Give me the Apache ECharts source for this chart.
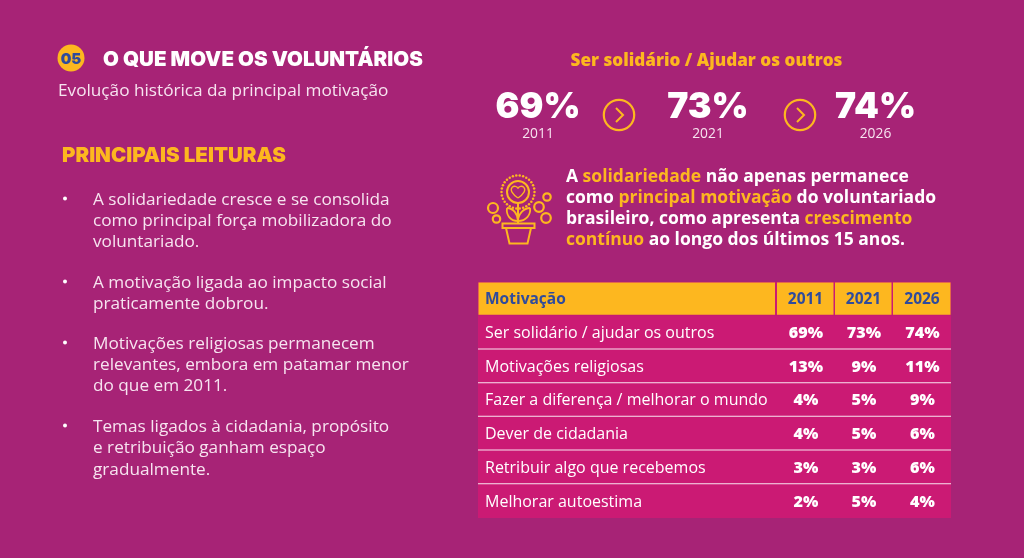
<!DOCTYPE html>
<html><head><meta charset="utf-8">
<style>html,body{margin:0;padding:0;background:#A72376}#c{width:1024px;height:558px}</style>
<script src="https://cdn.jsdelivr.net/npm/echarts@6/dist/echarts.min.js"></script>
</head><body><div id="c"></div>
<script>
// ---- data ----
const motivacoes = ['Ser solidário / ajudar os outros','Motivações religiosas','Fazer a diferença / melhorar o mundo','Dever de cidadania','Retribuir algo que recebemos','Melhorar autoestima'];
const anos = ['2011','2021','2026'];
const v2011 = [69,13,4,4,3,2];
const v2021 = [73,9,5,5,3,5];
const v2026 = [74,11,9,6,6,4];
const kpiValores = [69,73,74];
const headerCol = 'Motivação';
const titulo = 'O QUE MOVE OS VOLUNTÁRIOS';
const subtitulo = 'Evolução histórica da principal motivação';
const leituras = 'PRINCIPAIS LEITURAS';
const bullets = [
 ['A solidariedade cresce e se consolida','como principal força mobilizadora do','voluntariado.'],
 ['A motivação ligada ao impacto social','praticamente dobrou.'],
 ['Motivações religiosas permanecem','relevantes, embora em patamar menor','do que em 2011.'],
 ['Temas ligados à cidadania, propósito','e retribuição ganham espaço','gradualmente.']
];

// ---- style ----
const BG='#A72376', PINK='#CB1A74', Y='#FDB71F', BLUE='#2F4B9D', W='#FFFFFF', SOFT='#F7E4F0';
const OS='"Open Sans"', HEAD='Inter';
const colEdges=[0,298,356,414,473];

const rowsAll=[null,...motivacoes];
const serie=[v2011,v2021,v2026];
const cells=[];
for(let r=0;r<rowsAll.length;r++)for(let c=0;c<4;c++)cells.push([c,r]);

function renderCell(params,api){
  const c=api.value(0), r=api.value(1);
  const h=api.size([0,1])[1];
  const x0=api.coord([colEdges[c],r]), x1=api.coord([colEdges[c+1],r]);
  const top=x0[1]-h/2, left=x0[0], w=x1[0]-x0[0];
  const kids=[];
  if(r===0){
    kids.push({type:'rect',shape:{x:left,y:top,width:w,height:h},style:{fill:PINK}});
    kids.push({type:'rect',shape:{x:left+(c?1:0.5),y:top+0.5,width:w-1.5,height:h-1.5},style:{fill:Y}});
    const t=c===0?headerCol:anos[c-1];
    kids.push({type:'text',style:{x:c===0?left+7:left+w/2+0.5,y:top+h/2+0.5,text:t,fill:BLUE,fontFamily:OS,fontWeight:700,fontSize:15.5,textAlign:c===0?'left':'center',textVerticalAlign:'middle'}});
  }else{
    kids.push({type:'rect',shape:{x:left,y:top,width:w,height:h},style:{fill:PINK}});
    if(r<rowsAll.length-1)kids.push({type:'rect',shape:{x:left,y:top+h-1,width:w,height:2},style:{fill:'#F9E4EF'}});
    const t=c===0?rowsAll[r]:serie[c-1][r-1]+'%';
    kids.push({type:'text',style:{x:c===0?left+7:left+w/2+1,y:top+h/2+0.8,text:t,fill:W,fontFamily:OS,fontWeight:c===0?500:800,fontSize:c===0?16:16.2,textAlign:c===0?'left':'center',textVerticalAlign:'middle'}});
  }
  return {type:'group',children:kids};
}

// ---- graphic helpers ----
const T=(x,y,text,fill,size,weight,font,align)=>({type:'text',x,y,silent:true,style:{text,fill,fontSize:size,fontWeight:weight||400,fontFamily:font||OS,textAlign:align||'left',textVerticalAlign:'middle'}});
const RING=(cx,cy,r,lw)=>({type:'circle',shape:{cx,cy,r},style:{fill:'none',stroke:Y,lineWidth:lw||2}});
const BZ=(p,lw)=>({type:'bezierCurve',shape:{x1:p[0],y1:p[1],cpx1:p[2],cpy1:p[3],cpx2:p[4],cpy2:p[5],x2:p[6],y2:p[7]},style:{fill:'none',stroke:Y,lineWidth:lw||1.8}});
const g=[];
g.push({type:'circle',shape:{cx:71,cy:58,r:13.5},style:{fill:Y}});
g.push(T(71,59,'05',BLUE,15,900,HEAD,'center'));
g.push(T(103,60,titulo,W,20.5,900,HEAD));
g.push(T(58,91,subtitulo,SOFT,17.2));
g.push(T(62,156,leituras,Y,20.5,900,HEAD));
const ys=[[200,221,242],[283,304],[344,365,386],[427,448,470]];
bullets.forEach((b,i)=>{
  g.push({type:'circle',shape:{cx:65,cy:ys[i][0]-1.5,r:2},style:{fill:W}});
  b.forEach((l,j)=>g.push(T(93,ys[i][j],l,SOFT,17.2)));
});
g.push(T(706.5,61,'Ser solidário / Ajudar os outros',Y,17.1,800,OS,'center'));
[538,708,875.5].forEach((x,i)=>{
  g.push(T(x,107,kpiValores[i]+'%',W,35.5,900,HEAD,'center'));
  g.push(T(x,134,anos[i],SOFT,13.8,400,OS,'center'));
});
[619,800].forEach(x=>{
  g.push(RING(x,115,15.2,2.2));
  g.push({type:'polyline',shape:{points:[[x-3,108],[x+4,115],[x-3,122]]},style:{fill:'none',stroke:Y,lineWidth:2}});
});
g.push({type:'text',x:566,y:167,silent:true,style:{
  text:'{w|A }{y|solidariedade}{w| não apenas permanece}\n{w|como }{y|principal motivação}{w| do voluntariado}\n{w|brasileiro, como apresenta }{y|crescimento}\n{y|contínuo}{w| ao longo dos últimos 15 anos.}',
  fontFamily:OS,fontSize:17.5,fontWeight:700,lineHeight:21,
  rich:{w:{fill:W,fontFamily:OS,fontSize:17.5,fontWeight:700,lineHeight:21},y:{fill:Y,fontFamily:OS,fontSize:17.5,fontWeight:700,lineHeight:21}}}});
// icon
const ic=[];
ic.push(RING(518,192,11,2));
for(let i=0;i<30;i++){const a=i/30*Math.PI*2;ic.push({type:'circle',shape:{cx:518+16.5*Math.cos(a),cy:192+16.5*Math.sin(a),r:1.25},style:{fill:Y}});}
ic.push(BZ([518,198,512,194,510,190,512,187.5],1.3));
ic.push(BZ([512,187.5,514,185.5,517,186,518,188.5],1.3));
ic.push(BZ([518,198,524,194,526,190,524,187.5],1.3));
ic.push(BZ([524,187.5,522,185.5,519,186,518,188.5],1.3));
ic.push({type:'line',shape:{x1:518,y1:203,x2:518,y2:223},style:{stroke:Y,lineWidth:2}});
ic.push(BZ([518,221,510,221,506,215,507,208]));
ic.push(BZ([507,208,513,208,518,214,518,221]));
ic.push(BZ([518,221,526,221,531,215,530,208]));
ic.push(BZ([530,208,524,208,518,214,518,221]));
ic.push({type:'rect',shape:{x:502.5,y:223.5,width:32,height:4.5},style:{fill:'none',stroke:Y,lineWidth:2}});
ic.push({type:'polyline',shape:{points:[[506,228],[509.5,243.5],[527.5,243.5],[531,228]]},style:{fill:'none',stroke:Y,lineWidth:2}});
[[493,208,5],[496.5,219,3.7],[547,197,3.7],[539,207,4.8],[546,218,4.8]].forEach(p=>ic.push(RING(p[0],p[1],p[2],2.2)));
g.push(...ic);

const chart=echarts.init(document.getElementById('c'),null,{renderer:'canvas',width:1024,height:558});
chart.setOption({
  backgroundColor:BG,animation:false,
  grid:{left:478,top:282,width:473,height:236},
  xAxis:{type:'value',min:0,max:473,show:false},
  yAxis:{type:'category',inverse:true,show:false,data:[headerCol,...motivacoes]},
  series:[{type:'custom',data:cells,renderItem:renderCell,encode:{x:0,y:1},silent:true,clip:false,z:1}],
  graphic:{elements:g}
});
</script></body></html>
